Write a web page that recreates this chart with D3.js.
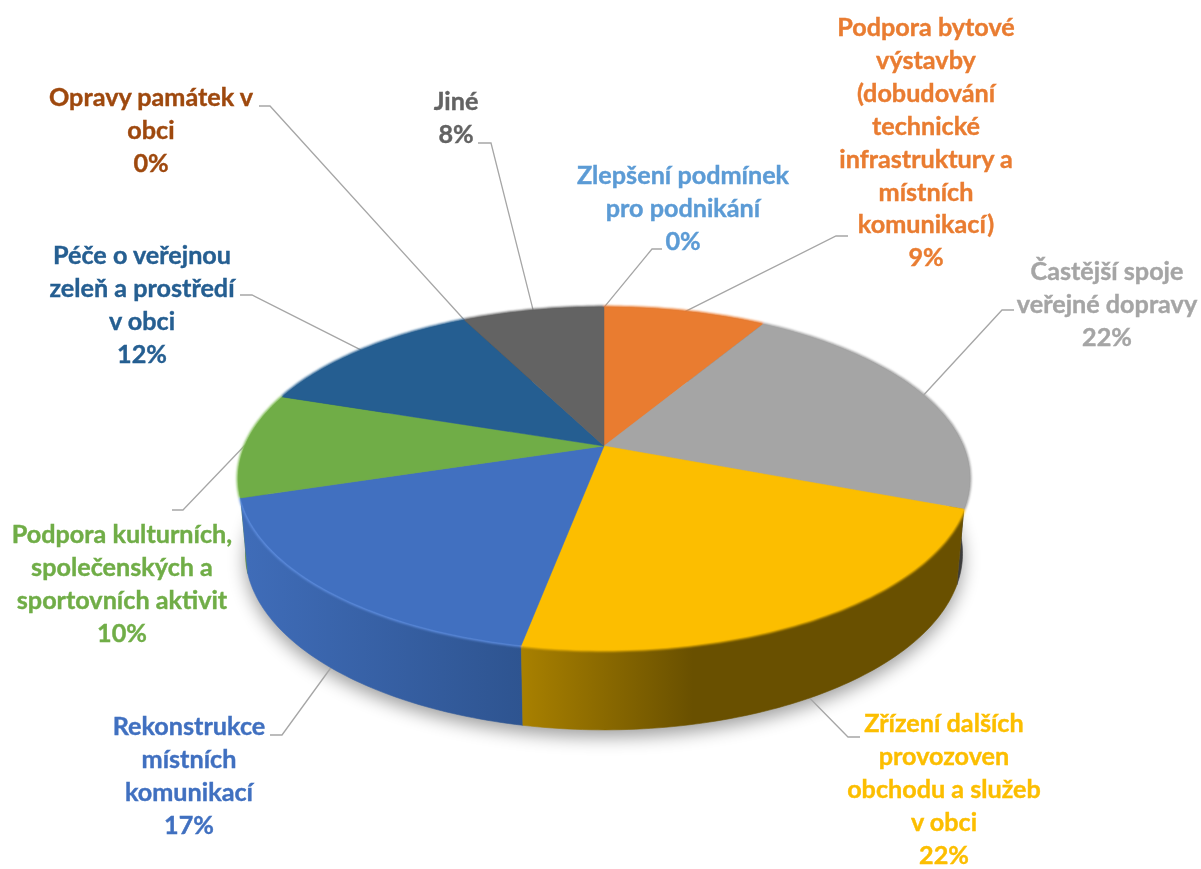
<!DOCTYPE html>
<html>
<head>
<meta charset="utf-8">
<script src="https://cdn.jsdelivr.net/npm/d3@7"></script>
<style>
    html, body { margin: 0; padding: 0; background: #fff; }
    text { font-family: Lato, "Open Sans", sans-serif; font-weight: 700; font-size: 25.2px; }
</style>
</head>
<body>
<div id="chart"></div>
<script>
// categories and values, in clockwise order from the top
const categories = [
    ['Zlepšení podmínek', 'pro podnikání'],
    ['Podpora bytové', 'výstavby', '(dobudování', 'technické', 'infrastruktury a', 'místních', 'komunikací)'],
    ['Častější spoje', 'veřejné dopravy'],
    ['Zřízení dalších', 'provozoven', 'obchodu a služeb', 'v obci'],
    ['Rekonstrukce', 'místních', 'komunikací'],
    ['Podpora kulturních,', 'společenských a', 'sportovních aktivit'],
    ['Péče o veřejnou', 'zeleň a prostředí', 'v obci'],
    ['Opravy památek v', 'obci'],
    ['Jiné']
];
const values = [0, 8.6, 22.2, 22.2, 17.2, 9.9, 12.4, 0, 7.5];
const colors = ['#5b9bd5', '#e97c30', '#a5a5a5', '#fcbe00', '#4170c0', '#70ad47', '#255e91', '#9e480e', '#636363'];

// side wall shading, light end and dark end
const wallLight = ['#5b9bd5', '#8a4a1c', '#8c8c8c', '#a88000', '#3f6cb8', '#5b8f3a', '#1c4870', '#7a380b', '#4a4a4a'];
const wallDark = ['#3a6a94', '#6a3510', '#3c3c3c', '#695000', '#2e5490', '#4c7a30', '#163a5c', '#5c2a08', '#333333'];
const rimColors = ['#5b9bd5', '#e97c30', '#a5a5a5', '#fcbe00', '#5f8ee0', '#80bd57', '#255e91', '#9e480e', '#636363'];

// label centre x, y of first line, and the bend and end of each leader
const labelX = [683, 926, 1107, 944, 189, 122, 142, 151, 456];
const labelY = [176, 28, 272, 724, 727, 535, 256, 98, 102];
const leaderBend = [[652, 249], [836, 236], [1002, 310], [848, 737], [282, 735], [183, 510], [252, 295], [270, 106], [491, 143]];
const leaderEnd = [[662, 249], [848, 236], [1014, 310], [860, 737], [270, 735], [172, 510], [240, 295], [259, 106], [478, 143]];

const width = 1201;
const height = 869;
const lineStep = 32.9;

const pitch = 0.19; // perspective of the disc
const topPlane = { cx: 604, cy: 446, a: 359, b: 165 };
const bottomPlane = { cx: 604, cy: 520, a: 352, b: 170 };

function project(plane, angle) {
    const X = Math.sin(angle);
    const Y = Math.cos(angle);
    const w = 1 + pitch * Y;
    return [plane.cx + plane.a * X / w, plane.cy - plane.b * Y / w];
}

function arcPoints(plane, a0, a1) {
    const n = Math.max(1, Math.ceil((a1 - a0) / (Math.PI / 180)));
    return d3.range(n + 1).map(function(i) { return project(plane, a0 + (a1 - a0) * i / n); });
}

const pie = d3.pie().sort(null).startAngle(0).endAngle(2 * Math.PI);
const slices = pie(values).map(function(d, i) {
    d.index = i;
    d.mid = (d.startAngle + d.endAngle) / 2;
    return d;
});

const line = d3.line();

const svg = d3.select('#chart').append('svg')
    .attr('width', width)
    .attr('height', height)
    .style('display', 'block');

const defs = svg.append('defs');
defs.append('filter').attr('id', 'shadow')
    .attr('x', '-10%').attr('y', '-20%').attr('width', '120%').attr('height', '140%')
    .append('feGaussianBlur').attr('stdDeviation', 9);
defs.append('filter').attr('id', 'soft')
    .attr('x', '-5%').attr('y', '-5%').attr('width', '110%').attr('height', '110%')
    .append('feGaussianBlur').attr('stdDeviation', 1.3);
defs.append('filter').attr('id', 'textSoft')
    .attr('x', '-5%').attr('y', '-5%').attr('width', '110%').attr('height', '110%')
    .append('feGaussianBlur').attr('stdDeviation', 0.45);

slices.forEach(function(d) {
    const pts = arcPoints(bottomPlane, d.startAngle, d.endAngle);
    const xs = d3.extent(pts, function(p) { return p[0]; });
    const leftSide = d.mid > Math.PI;
    const g = defs.append('linearGradient')
        .attr('id', 'wall' + d.index)
        .attr('gradientUnits', 'userSpaceOnUse')
        .attr('x1', xs[0]).attr('x2', leftSide ? xs[1] : xs[0] + 170)
        .attr('y1', 0).attr('y2', 0);
    g.append('stop').attr('offset', 0).attr('stop-color', wallLight[d.index]);
    g.append('stop').attr('offset', 1).attr('stop-color', wallDark[d.index]);
});

// shadow under the disc
svg.append('path')
    .attr('d', line(arcPoints(bottomPlane, 0, 2 * Math.PI)) + 'Z')
    .attr('transform', 'translate(0,7)')
    .attr('fill', '#000')
    .attr('opacity', 0.38)
    .attr('filter', 'url(#shadow)');

// leaders go under the disc
svg.append('g').selectAll('path')
    .data(slices)
    .enter().append('path')
    .attr('d', function(d) {
        const front = Math.cos(d.mid) < -0.2;
        const start = project(front ? bottomPlane : topPlane, d.mid);
        return line([start, leaderBend[d.index], leaderEnd[d.index]]);
    })
    .attr('fill', 'none')
    .attr('stroke', '#a6a6a6')
    .attr('stroke-width', 1.3);

// side walls, far ones first
svg.append('g').selectAll('path')
    .data(slices.filter(function(d) { return d.value > 0; })
        .sort(function(a, b) { return Math.cos(b.mid) - Math.cos(a.mid); }))
    .enter().append('path')
    .attr('d', function(d) {
        const upper = arcPoints(topPlane, d.startAngle, d.endAngle);
        const lower = arcPoints(bottomPlane, d.startAngle, d.endAngle).reverse();
        return line(upper.concat(lower)) + 'Z';
    })
    .attr('fill', function(d) { return 'url(#wall' + d.index + ')'; })
    .attr('stroke', function(d) { return 'url(#wall' + d.index + ')'; })
    .attr('stroke-width', 0.6);

// soft bevel along the rim of the top face
svg.append('g').attr('filter', 'url(#soft)').selectAll('path')
    .data(slices.filter(function(d) { return d.value > 0; }))
    .enter().append('path')
    .attr('d', function(d) { return line(arcPoints(topPlane, d.startAngle, d.endAngle)); })
    .attr('fill', 'none')
    .attr('stroke', function(d) { return rimColors[d.index]; })
    .attr('stroke-width', 3.5);

// top face
svg.append('g').selectAll('path')
    .data(slices.filter(function(d) { return d.value > 0; }))
    .enter().append('path')
    .attr('d', function(d) {
        return line([[topPlane.cx, topPlane.cy]].concat(arcPoints(topPlane, d.startAngle, d.endAngle))) + 'Z';
    })
    .attr('fill', function(d) { return colors[d.index]; })
    .attr('stroke', function(d) { return colors[d.index]; })
    .attr('stroke-width', 0.5);

// labels
const label = svg.append('g').attr('filter', 'url(#textSoft)').selectAll('text')
    .data(slices)
    .enter().append('text')
    .attr('text-anchor', 'middle')
    .attr('fill', function(d) { return colors[d.index]; })
    .attr('stroke', function(d) { return colors[d.index]; })
    .attr('stroke-width', 0.4);

label.selectAll('tspan')
    .data(function(d) {
        return categories[d.index].concat(Math.round(d.value) + '%').map(function(t, j) {
            return { text: t, x: labelX[d.index], y: labelY[d.index] + j * lineStep + 8 };
        });
    })
    .enter().append('tspan')
    .attr('x', function(t) { return t.x; })
    .attr('y', function(t) { return t.y; })
    .text(function(t) { return t.text; });
</script>
</body>
</html>
